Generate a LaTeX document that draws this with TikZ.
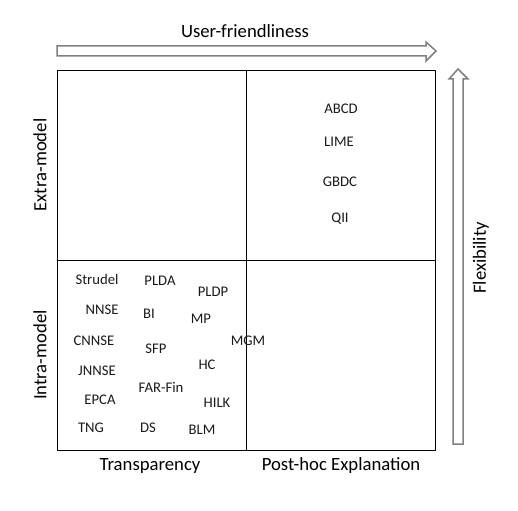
\documentclass[tikz,border=0pt]{standalone}
\usepackage{fontspec}
\setmainfont{Carlito}
\usepackage{xcolor}
\usepackage{tikz}
\usetikzlibrary{arrows.meta,positioning,calc}
\definecolor{ink}{HTML}{1A1A1A}
\definecolor{shaftgray}{HTML}{808080}
\tikzset{
    every picture/.style={line cap=round,line join=round},
    quadframe/.style={draw=black,line width=1pt},
    method/.style={inner sep=0pt,text=ink,font=\fontsize{14.7}{17}\selectfont},
    axislabel/.style={inner sep=0pt,text=black,font=\fontsize{18.7}{22}\selectfont},
    hollowarrow/.style={draw=shaftgray,line width=1.5pt,fill=white,line join=miter}
}

\begin{document}
\begin{tikzpicture}[x=1pt,y=-1pt]
  \useasboundingbox (0,0) rectangle (518,510);
  % quadrants
  \draw[quadframe] (57,71) rectangle (435,450);
  \draw[quadframe] (246,71) -- (246,450);
  \draw[quadframe] (57,260) -- (435,260);
  % user-friendliness arrow
  \draw[hollowarrow] (57,46) -- (426,46) -- (426,42) -- (436,51) -- (426,61)
    -- (426,56) -- (57,56) -- cycle;
  % flexibility arrow
  \draw[hollowarrow] (453,444) -- (453,79) -- (449,79) -- (458,69) -- (468,79)
    -- (463,79) -- (463,444) -- cycle;
  % axis labels
  \node[axislabel] (ufr) at (245,31) {User-friendliness};
  \node[axislabel,rotate=90] (flex) at (481,258) {Flexibility};
  \node[axislabel,rotate=90] (extra) at (40,165) {Extra-model};
  \node[axislabel,rotate=90] (intra) at (40,355) {Intra-model};
  \node[axislabel] (transp) at (150,466) {Transparency};
  \node[axislabel] (posthoc) at (341,466) {Post-hoc Explanation};
  % post-hoc methods
  \node[method] (abcd) at (341,109) {ABCD};
  \node[method] (lime) at (339,142) {LIME};
  \node[method] (gbdc) at (340,182) {GBDC};
  \node[method] (qii) at (340,219) {QII};
  % transparent methods
  \node[method] (strudel) at (97,279) {Strudel};
  \node[method] (plda) at (160,281) {PLDA};
  \node[method] (pldp) at (213,292) {PLDP};
  \node[method] (nnse) at (102,310) {NNSE};
  \node[method] (bi) at (149,314) {BI};
  \node[method] (mp) at (201,319) {MP};
  \node[method] (cnnse) at (94,341) {CNNSE};
  \node[method] (sfp) at (156,349) {SFP};
  \node[method] (mgm) at (248,341) {MGM};
  \node[method] (jnnse) at (97,371) {JNNSE};
  \node[method] (hc) at (207,365) {HC};
  \node[method] (farfin) at (161,387) {FAR-Fin};
  \node[method] (epca) at (100,400) {EPCA};
  \node[method] (hilk) at (217,403) {HILK};
  \node[method] (tng) at (91,428) {TNG};
  \node[method] (ds) at (148,428) {DS};
  \node[method] (blm) at (202,430) {BLM};
\end{tikzpicture}
\end{document}
